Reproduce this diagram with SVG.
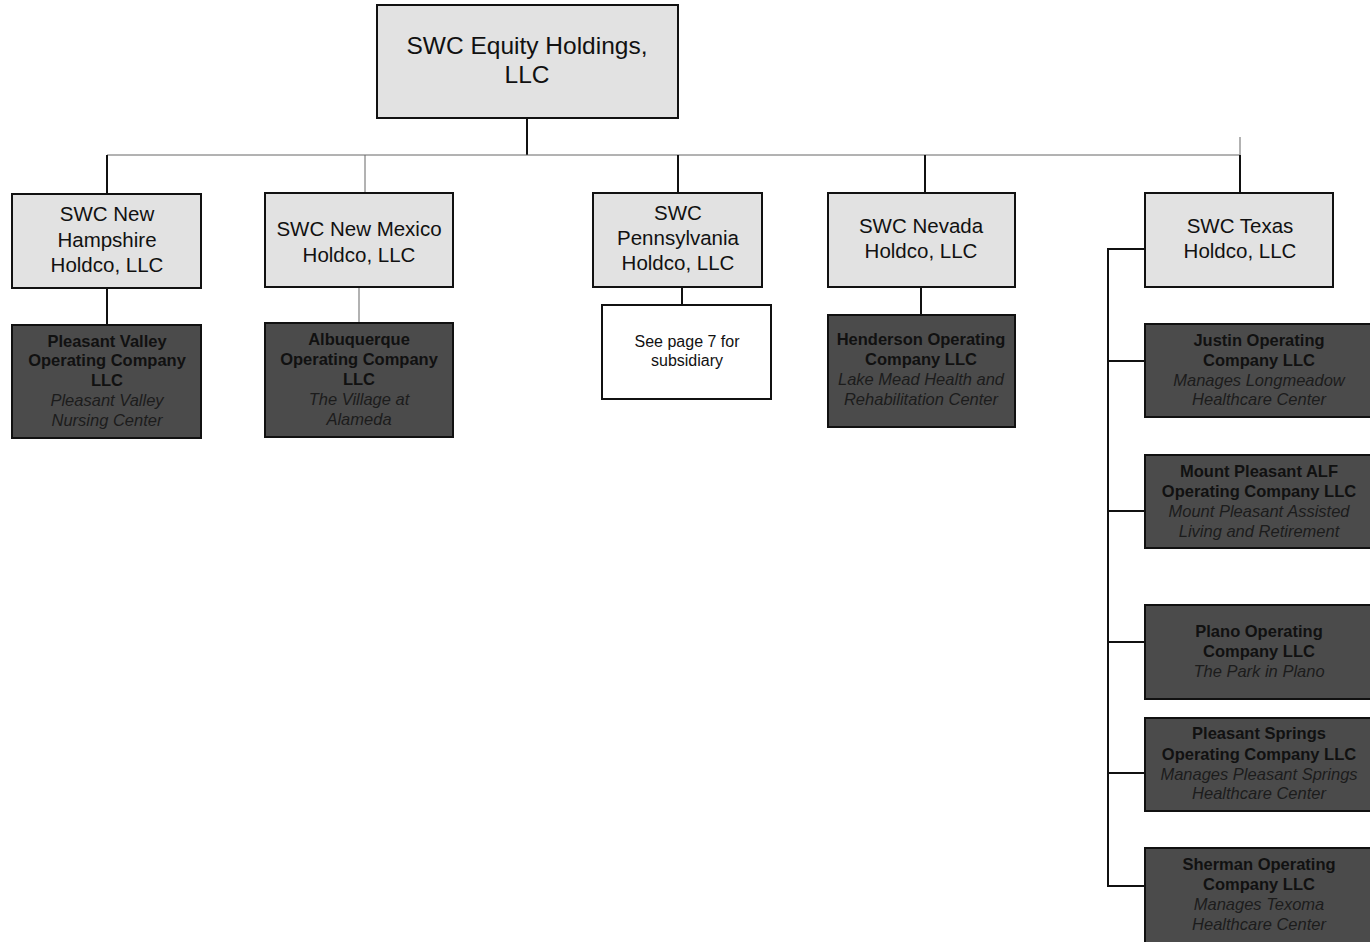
<svg xmlns="http://www.w3.org/2000/svg" width="1370" height="942" viewBox="0 0 1370 942">
<style>
.lt{fill:#e2e2e2;stroke:#111;stroke-width:2}
.dk{fill:#4b4b4b;stroke:#111;stroke-width:2}
.wh{fill:#fff;stroke:#111;stroke-width:2}
text{font-family:"Liberation Sans",Arial,sans-serif;text-anchor:middle;fill:#111}
.r{font-size:24.5px}
.h{font-size:20.5px}
.b{font-size:16.5px;font-weight:bold}
.i{font-size:16.5px;font-style:italic;fill:#1c1c1c}
.n{font-size:16px}
.c{fill:none;stroke:#111;stroke-width:2}
.g{fill:none;stroke:#666;stroke-width:1}
.gl{fill:none;stroke:#999;stroke-width:1.5}
</style>
<rect width="1370" height="942" fill="#fff"/>
<g id="connectors">
<path class="c" d="M527 118V155"/>
<path class="g" d="M107 155H1240"/>
<path class="gl" d="M1240 137V155"/>
<path class="c" d="M107 155V194"/>
<path class="g" d="M365 155V193"/>
<path class="c" d="M678 155V193"/>
<path class="c" d="M925 155V193"/>
<path class="c" d="M1240 155V193"/>
<path class="c" d="M107 288V325"/>
<path class="gl" d="M359 287V323"/>
<path class="c" d="M682 287V305"/>
<path class="c" d="M921 287V315"/>
<path class="c" d="M1145 249H1108V886H1145"/>
<path class="c" d="M1108 361H1145M1108 511H1145M1108 642H1145M1108 773H1145"/>
</g>
<g id="root">
<rect class="lt" x="377" y="5" width="301" height="113"/>
<text class="r" x="527" y="54">SWC Equity Holdings,</text>
<text class="r" x="527" y="83">LLC</text>
</g>
<g id="nh">
<rect class="lt" x="12" y="194" width="189" height="94"/>
<text class="h" x="107" y="221">SWC New</text>
<text class="h" x="107" y="247">Hampshire</text>
<text class="h" x="107" y="272">Holdco, LLC</text>
</g>
<g id="nm">
<rect class="lt" x="265" y="193" width="188" height="94"/>
<text class="h" x="359" y="236">SWC New Mexico</text>
<text class="h" x="359" y="262">Holdco, LLC</text>
</g>
<g id="pa">
<rect class="lt" x="593" y="193" width="169" height="94"/>
<text class="h" x="678" y="220">SWC</text>
<text class="h" x="678" y="245">Pennsylvania</text>
<text class="h" x="678" y="270">Holdco, LLC</text>
</g>
<g id="nv">
<rect class="lt" x="828" y="193" width="187" height="94"/>
<text class="h" x="921" y="233">SWC Nevada</text>
<text class="h" x="921" y="258">Holdco, LLC</text>
</g>
<g id="tx">
<rect class="lt" x="1145" y="193" width="188" height="94"/>
<text class="h" x="1240" y="233">SWC Texas</text>
<text class="h" x="1240" y="258">Holdco, LLC</text>
</g>
<g id="pleasant-valley">
<rect class="dk" x="12" y="325" width="189" height="113"/>
<text class="b" x="107" y="347">Pleasant Valley</text>
<text class="b" x="107" y="366">Operating Company</text>
<text class="b" x="107" y="386">LLC</text>
<text class="i" x="107" y="406">Pleasant Valley</text>
<text class="i" x="107" y="426">Nursing Center</text>
</g>
<g id="albuquerque">
<rect class="dk" x="265" y="323" width="188" height="114"/>
<text class="b" x="359" y="345">Albuquerque</text>
<text class="b" x="359" y="365">Operating Company</text>
<text class="b" x="359" y="385">LLC</text>
<text class="i" x="359" y="405">The Village at</text>
<text class="i" x="359" y="425">Alameda</text>
</g>
<g id="see-page-7">
<rect class="wh" x="602" y="305" width="169" height="94"/>
<text class="n" x="687" y="347">See page 7 for</text>
<text class="n" x="687" y="366">subsidiary</text>
</g>
<g id="henderson">
<rect class="dk" x="828" y="315" width="187" height="112"/>
<text class="b" x="921" y="345">Henderson Operating</text>
<text class="b" x="921" y="365">Company LLC</text>
<text class="i" x="921" y="385">Lake Mead Health and</text>
<text class="i" x="921" y="405">Rehabilitation Center</text>
</g>
<g id="justin">
<rect class="dk" x="1145" y="324" width="240" height="93"/>
<text class="b" x="1259" y="346">Justin Operating</text>
<text class="b" x="1259" y="366">Company LLC</text>
<text class="i" x="1259" y="386">Manages Longmeadow</text>
<text class="i" x="1259" y="405">Healthcare Center</text>
</g>
<g id="mount-pleasant">
<rect class="dk" x="1145" y="455" width="240" height="93"/>
<text class="b" x="1259" y="477">Mount Pleasant ALF</text>
<text class="b" x="1259" y="497">Operating Company LLC</text>
<text class="i" x="1259" y="517">Mount Pleasant Assisted</text>
<text class="i" x="1259" y="537">Living and Retirement</text>
</g>
<g id="plano">
<rect class="dk" x="1145" y="605" width="240" height="94"/>
<text class="b" x="1259" y="637">Plano Operating</text>
<text class="b" x="1259" y="657">Company LLC</text>
<text class="i" x="1259" y="677">The Park in Plano</text>
</g>
<g id="pleasant-springs">
<rect class="dk" x="1145" y="718" width="240" height="93"/>
<text class="b" x="1259" y="739">Pleasant Springs</text>
<text class="b" x="1259" y="760">Operating Company LLC</text>
<text class="i" x="1259" y="780">Manages Pleasant Springs</text>
<text class="i" x="1259" y="799">Healthcare Center</text>
</g>
<g id="sherman">
<rect class="dk" x="1145" y="848" width="240" height="100"/>
<text class="b" x="1259" y="870">Sherman Operating</text>
<text class="b" x="1259" y="890">Company LLC</text>
<text class="i" x="1259" y="910">Manages Texoma</text>
<text class="i" x="1259" y="930">Healthcare Center</text>
</g>
</svg>
